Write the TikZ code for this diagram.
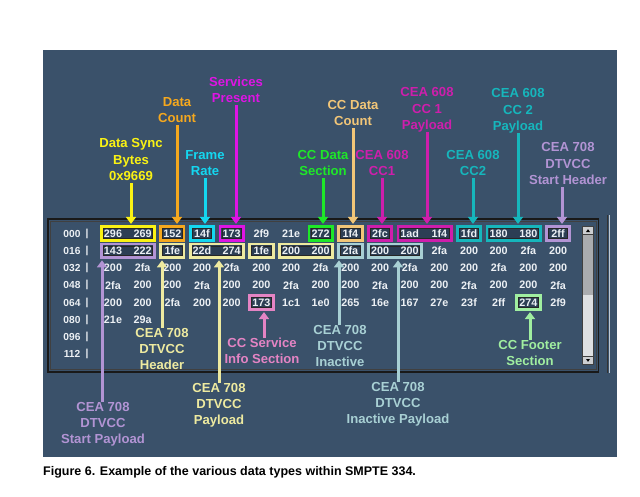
\documentclass[tikz,border=0pt]{standalone}
\usepackage{fontspec}
\setmainfont{Liberation Sans}
\usetikzlibrary{arrows.meta,calc}
\definecolor{panelbg}{RGB}{58,81,106}
\definecolor{boxfill}{RGB}{44,62,84}
\definecolor{celltext}{RGB}{236,240,244}
\definecolor{yellowc}{RGB}{250,242,20}
\definecolor{orangec}{RGB}{245,168,30}
\definecolor{cyanc}{RGB}{20,215,240}
\definecolor{magc}{RGB}{222,20,228}
\definecolor{greenc}{RGB}{30,232,40}
\definecolor{tanc}{RGB}{242,198,120}
\definecolor{pinkmag}{RGB}{206,30,172}
\definecolor{tealc}{RGB}{22,182,188}
\definecolor{lavc}{RGB}{178,148,212}
\definecolor{paleyel}{RGB}{238,234,160}
\definecolor{lblue}{RGB}{168,208,212}
\definecolor{pinkc}{RGB}{228,132,196}
\definecolor{palegreen}{RGB}{160,238,160}
\definecolor{thumbc}{RGB}{170,172,175}
\definecolor{troughc}{RGB}{222,224,226}
\definecolor{btnc}{RGB}{205,207,210}
\definecolor{edgec}{RGB}{190,200,210}
\newcommand{\mkbox}[5]{%
  \pgfmathsetmacro\mybx{113+29.67*(#3+#4)/2}%
  \pgfmathsetmacro\myby{233.5+17.25*#2}%
  \pgfmathsetmacro\mybw{29.67*(#4-#3)+23.5}%
  \node[hl=#5, minimum width=\mybw pt] (#1) at (\mybx,\myby) {};}
\begin{document}
\begin{tikzpicture}[x=1pt,y=-1pt,
  lab/.style={font=\fontsize{13.1}{16.3}\selectfont\bfseries, align=center, inner sep=0pt},
  toplab/.style={lab, anchor=south, text depth=2.5pt},
  botlab/.style={lab, anchor=north},
  cell/.style={font=\fontsize{10.8}{12}\selectfont\bfseries, text=celltext, inner sep=0pt},
  rowlab/.style={font=\fontsize{10.2}{12}\selectfont\bfseries, text=celltext, inner sep=0pt},
  hl/.style={draw=#1, line width=2.8pt, fill=boxfill, minimum height=13.6pt, inner sep=0pt,
    path picture={\draw[black!85, line width=0.7pt]
      ([shift={(2.1pt,-2.1pt)}]path picture bounding box.north west) rectangle
      ([shift={(-2.1pt,2.1pt)}]path picture bounding box.south east);}},
  arr/.style={line width=3pt, -{Triangle[width=10pt,length=7pt]}, shorten >=1.4pt},
]
\useasboundingbox (0,0) rectangle (640,496);
\fill[white] (0,0) rectangle (640,496);
\fill[panelbg] (43,50) rectangle (617,457);

% table frame
\draw[black!90, line width=1.4pt] (48,219) rectangle (598.5,372);
\draw[black!75, line width=0.6pt] (50.5,221.5) rectangle (596,369.5);
\draw[black!80, line width=1pt] (607.5,215) -- (607.5,373);
\draw[edgec, line width=1.3pt] (609.6,215) -- (609.6,373);

% scrollbar
\fill[black!75] (582,225.5) rectangle (594,365);
\fill[btnc] (583,226.5) rectangle (593,234);
\fill[black] (586,232) -- (590,232) -- (588,229.2) -- cycle;
\fill[thumbc] (583,234.6) rectangle (593,295);
\fill[troughc] (583,295) rectangle (593,356);
\fill[btnc] (583,356.6) rectangle (593,364);
\fill[black] (586,359) -- (590,359) -- (588,361.8) -- cycle;

% highlight boxes
\mkbox{b0}{0}{0}{1}{yellowc}
\mkbox{b1}{0}{2}{2}{orangec}
\mkbox{b2}{0}{3}{3}{cyanc}
\mkbox{b3}{0}{4}{4}{magc}
\mkbox{b4}{0}{7}{7}{greenc}
\mkbox{b5}{0}{8}{8}{tanc}
\mkbox{b6}{0}{9}{9}{pinkmag}
\mkbox{b7}{0}{10}{11}{pinkmag}
\mkbox{b8}{0}{12}{12}{tealc}
\mkbox{b9}{0}{13}{14}{tealc}
\mkbox{b10}{0}{15}{15}{lavc}
\mkbox{c0}{1}{0}{1}{lavc}
\mkbox{c1}{1}{2}{2}{paleyel}
\mkbox{c2}{1}{3}{4}{paleyel}
\mkbox{c3}{1}{5}{5}{paleyel}
\mkbox{c4}{1}{6}{7}{paleyel}
\mkbox{c5}{1}{8}{8}{lblue}
\mkbox{c6}{1}{9}{10}{lblue}
\mkbox{d0}{4}{5}{5}{pinkc}
\mkbox{d1}{4}{14}{14}{palegreen}

% cells
\foreach \r/\vals in {
  0/{296,269,152,14f,173,2f9,21e,272,1f4,2fc,1ad,1f4,1fd,180,180,2ff},
  1/{143,222,1fe,22d,274,1fe,200,200,2fa,200,200,2fa,200,200,2fa,200},
  2/{200,2fa,200,200,2fa,200,200,2fa,200,200,2fa,200,200,2fa,200,200},
  3/{2fa,200,200,2fa,200,200,2fa,200,200,2fa,200,200,2fa,200,200,2fa},
  4/{200,200,2fa,200,200,173,1c1,1e0,265,16e,167,27e,23f,2ff,274,2f9},
  5/{21e,29a}}{
  \foreach \v [count=\c from 0] in \vals {
    \node[cell] (cell-\r-\c) at ({113+29.67*\c},{233.5+17.25*\r}) {\v};
  }
}
\foreach \rl [count=\r from 0] in {000,016,032,048,064,080,096,112}{
  \node[rowlab] (rl-\r) at (72,{233.5+17.25*\r}) {\rl};
  \node[rowlab] (bar-\r) at (87,{233.5+17.25*\r}) {|};
}

% top labels and arrows
\node[toplab, text=yellowc] (lDS) at (131,183) {Data Sync\\Bytes\\0x9669};
\node[toplab, text=orangec] (lDC) at (177,125) {Data\\Count};
\node[toplab, text=cyanc] (lFR) at (205,178) {Frame\\Rate};
\node[toplab, text=magc] (lSP) at (236,105) {Services\\Present};
\node[toplab, text=greenc] (lCS) at (323,178) {CC Data\\Section};
\node[toplab, text=tanc] (lCDC) at (353,128) {CC Data\\Count};
\node[toplab, text=pinkmag] (lCC1) at (382,178) {CEA 608\\CC1};
\node[toplab, text=pinkmag] (lCP1) at (427,132) {CEA 608\\CC 1\\Payload};
\node[toplab, text=tealc] (lCC2) at (473,178) {CEA 608\\CC2};
\node[toplab, text=tealc] (lCP2) at (518,133) {CEA 608\\CC 2\\Payload};
\node[toplab, text=lavc] (lSH) at (568,187) {CEA 708\\DTVCC\\Start Header};

\draw[arr, yellowc] (lDS.south) -- (lDS.south |- b0.north);
\draw[arr, orangec] (lDC.south) -- (lDC.south |- b1.north);
\draw[arr, cyanc] (lFR.south) -- (lFR.south |- b2.north);
\draw[arr, magc] (lSP.south) -- (lSP.south |- b3.north);
\draw[arr, greenc] (lCS.south) -- (lCS.south |- b4.north);
\draw[arr, tanc] (lCDC.south) -- (lCDC.south |- b5.north);
\draw[arr, pinkmag] (lCC1.south) -- (lCC1.south |- b6.north);
\draw[arr, pinkmag] (lCP1.south) -- (lCP1.south |- b7.north);
\draw[arr, tealc] (lCC2.south) -- (lCC2.south |- b8.north);
\draw[arr, tealc] (lCP2.south) -- (lCP2.south |- b9.north);
\draw[arr, lavc] ([xshift=-6pt]lSH.south) -- ([xshift=-6pt]lSH.south |- b10.north);

% bottom labels and arrows
\node[botlab, text=lavc] (lSPay) at (103,402) {CEA 708\\DTVCC\\Start Payload};
\node[botlab, text=paleyel] (lHdr) at (162,328) {CEA 708\\DTVCC\\Header};
\node[botlab, text=paleyel] (lPay) at (219,383) {CEA 708\\DTVCC\\Payload};
\node[botlab, text=pinkc] (lSvc) at (262,338) {CC Service\\Info Section};
\node[botlab, text=lblue] (lIna) at (340,325) {CEA 708\\DTVCC\\Inactive};
\node[botlab, text=lblue] (lInP) at (398,382) {CEA 708\\DTVCC\\Inactive Payload};
\node[botlab, text=palegreen] (lFtr) at (530,340) {CC Footer\\Section};

\draw[arr, lavc] ([xshift=-1pt]lSPay.north) -- ([xshift=-1pt]lSPay.north |- c0.south);
\draw[arr, paleyel] (lHdr.north) -- (lHdr.north |- c1.south);
\draw[arr, paleyel] (lPay.north) -- (lPay.north |- c2.south);
\draw[arr, pinkc] ([xshift=2pt]lSvc.north) -- ([xshift=2pt]lSvc.north |- d0.south);
\draw[arr, lblue] ([xshift=-1pt]lIna.north) -- ([xshift=-1pt]lIna.north |- c5.south);
\draw[arr, lblue] (lInP.north) -- (lInP.north |- c6.south);
\draw[arr, palegreen] (lFtr.north) -- (lFtr.north |- d1.south);

% caption
\node[anchor=west, inner sep=0pt, font=\fontsize{12.5}{14}\selectfont\bfseries] (cap) at (43,472)
  {Figure 6. Example of the various data types within SMPTE 334.};
\end{tikzpicture}
\end{document}
